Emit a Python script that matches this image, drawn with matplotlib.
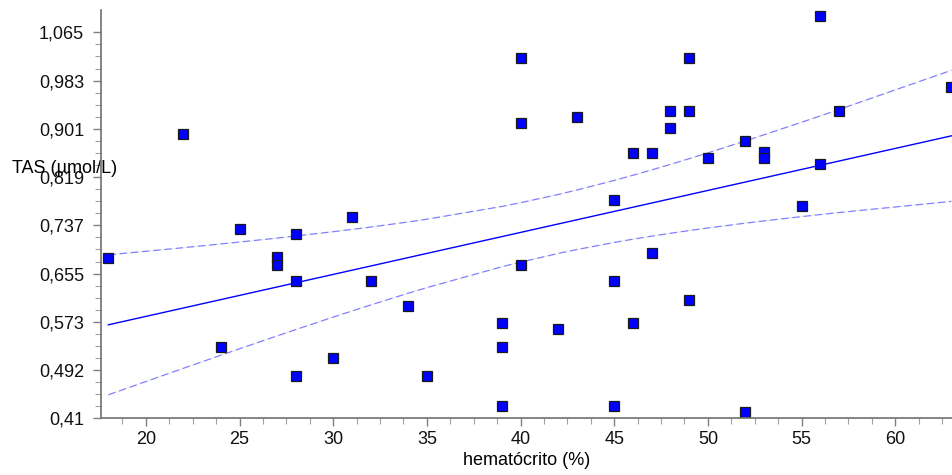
import numpy as np
import matplotlib
matplotlib.use("Agg")
import matplotlib.pyplot as plt
from matplotlib.ticker import FixedLocator, MultipleLocator

plt.rcParams['font.family'] = ['Liberation Sans', 'DejaVu Sans']

# hematocrit (%) and TAS (umol/L)
hematocrito = [18, 22, 24, 25, 27, 27, 28, 28, 28, 30, 31, 32, 34, 35,
               39, 39, 39, 40, 40, 40, 42, 43, 45, 45, 45, 46, 46, 47, 47,
               48, 48, 49, 49, 49, 50, 52, 52, 53, 53, 55, 56, 56, 57, 63]
tas = [0.682, 0.893, 0.531, 0.732, 0.683, 0.671, 0.722, 0.643, 0.482, 0.512,
       0.752, 0.643, 0.601, 0.482, 0.571, 0.531, 0.431, 1.021, 0.912, 0.671,
       0.562, 0.922, 0.781, 0.643, 0.431, 0.861, 0.571, 0.861, 0.691, 0.932,
       0.902, 1.021, 0.932, 0.610, 0.851, 0.881, 0.421, 0.862, 0.851, 0.771,
       1.092, 0.842, 0.932, 0.973]

y_ticks = [0.41, 0.491875, 0.57375, 0.655625, 0.7375, 0.819375, 0.90125, 0.983125, 1.065]
y_tick_labels = ["0,41", "0,492", "0,573", "0,655", "0,737", "0,819", "0,901", "0,983", "1,065"]
x_ticks = [20, 25, 30, 35, 40, 45, 50, 55, 60]

x = np.array(hematocrito, dtype=float)
y = np.array(tas)

# least squares fit + 95% confidence band of the mean
slope, intercept = np.polyfit(x, y, 1)
n = len(x)
resid = y - (slope * x + intercept)
s = np.sqrt(np.sum(resid ** 2) / (n - 2))
sxx = np.sum((x - x.mean()) ** 2)
t_crit = 2.018
xs = np.unique(x)
fit = slope * xs + intercept
half = t_crit * s * np.sqrt(1.0 / n + (xs - x.mean()) ** 2 / sxx)

fig = plt.figure(figsize=(9.52, 4.75), dpi=100)
ax = fig.add_axes([0.106, 0.1194, 0.894, 0.8596])

band_kw = dict(color='#8080ff', lw=0.9, linestyle=(0, (6, 3)), gapcolor='#f0f0e8')
ax.plot(xs, fit + half, **band_kw)
ax.plot(xs, fit - half, **band_kw)
ax.plot(xs, fit, color='#0000ff', lw=1.0)
ax.plot(x, y, linestyle='none', marker='s', markersize=7.5,
        markerfacecolor='#0000ff', markeredgecolor='#1a1a1a', markeredgewidth=0.9)

ax.set_xlim(17.6, 63.03)
ax.set_ylim(0.41, 1.103)

for side in ('top', 'right'):
    ax.spines[side].set_visible(False)
for side in ('left', 'bottom'):
    ax.spines[side].set_color('#707070')
    ax.spines[side].set_linewidth(1.2)

ax.xaxis.set_major_locator(FixedLocator(x_ticks))
ax.xaxis.set_minor_locator(MultipleLocator(1.25))
ax.yaxis.set_major_locator(FixedLocator(y_ticks))
y_minor = np.linspace(y_ticks[0], y_ticks[-1], 4 * (len(y_ticks) - 1) + 1)
ax.yaxis.set_minor_locator(FixedLocator(y_minor))
ax.set_yticklabels(y_tick_labels)
ax.tick_params(which='major', length=6, width=1, color='#808080', labelsize=13, labelcolor='#111111')
ax.tick_params(which='minor', length=4, width=0.8, color='#a0a0a0')
ax.tick_params(axis='y', pad=6)
ax.tick_params(axis='x', pad=3)

ax.set_xlabel("hematócrito (%)", fontsize=13, labelpad=3)
ax.set_ylabel("TAS (µmol/L)", fontsize=13, rotation=0, ha='left', va='center')
ax.yaxis.set_label_coords(-0.1046, 0.6106)

fig.savefig("out.png", dpi=100)
